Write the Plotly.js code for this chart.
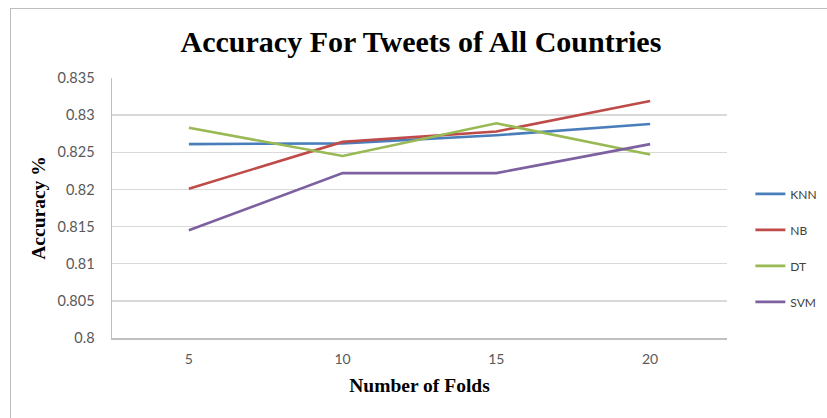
<!DOCTYPE html>
<html>
<head>
<meta charset="utf-8">
<script src="https://cdn.plot.ly/plotly-3.0.1.min.js"></script>
<style>
  html, body { margin: 0; padding: 0; background: #fff; }
  #chart { width: 827px; height: 418px; position: relative; }
  #frame { position: absolute; left: 10px; top: 8px; width: 830px; height: 420px;
           border-left: 1.5px solid #bdbdbd; border-top: 1.5px solid #bdbdbd; pointer-events: none; }
</style>
</head>
<body>
<div id="chart"></div>
<div id="frame"></div>
<script>
const folds = ['5', '10', '15', '20'];
const knn = [0.8261, 0.8262, 0.8273, 0.8288];
const nb  = [0.8201, 0.8264, 0.8278, 0.8319];
const dt  = [0.8283, 0.8245, 0.8289, 0.8247];
const svm = [0.8145, 0.8222, 0.8222, 0.8261];
const yTickVals = [0.8, 0.805, 0.81, 0.815, 0.82, 0.825, 0.83, 0.835];
const yTickText = ['0.8', '0.805', '0.81', '0.815', '0.82', '0.825', '0.83', '0.835'];

const names = ['KNN', 'NB', 'DT', 'SVM'];
const series = [knn, nb, dt, svm];
const colors = ['#4A7EBB', '#BE4B48', '#98B954', '#7D60A0'];

const traces = series.map((s, i) => ({
  x: folds, y: s, type: 'scatter', mode: 'lines', name: names[i],
  legendgroup: names[i],
  line: { color: colors[i], width: 2.6 }
}));

const layout = {
  width: 827, height: 418,
  margin: { l: 112, r: 100, t: 78, b: 80, autoexpand: false },
  paper_bgcolor: '#ffffff', plot_bgcolor: '#ffffff',
  title: {
    text: '<b>Accuracy For Tweets of All Countries</b>',
    font: { family: 'Liberation Serif, Times New Roman, serif', size: 30, color: '#000' },
    x: 0.509, xanchor: 'center', y: 0.9, yanchor: 'middle', yref: 'container'
  },
  xaxis: {
    type: 'category', range: [-0.5, 3.5],
    showgrid: false, showline: true, linecolor: '#BFBFBF', linewidth: 1.5,
    ticks: '', ticklabelstandoff: 8,
    tickfont: { family: 'Lato, Open Sans, sans-serif', size: 14, color: '#595959' },
    title: { text: '<b>Number of Folds</b>', standoff: 12,
             font: { family: 'Liberation Serif, Times New Roman, serif', size: 19.5, color: '#000' } },
    fixedrange: true
  },
  yaxis: {
    range: [0.8, 0.835], tickvals: yTickVals, ticktext: yTickText,
    showgrid: true, gridcolor: '#D9D9D9', gridwidth: 1.5,
    showline: true, linecolor: '#BFBFBF', linewidth: 1.5, zeroline: false,
    ticks: '', ticklabelstandoff: 13,
    tickfont: { family: 'Lato, Open Sans, sans-serif', size: 14.5, color: '#595959' },
    title: { text: '<b>Accuracy %</b>', standoff: 6,
             font: { family: 'Liberation Serif, Times New Roman, serif', size: 19.5, color: '#000' } },
    fixedrange: true
  },
  showlegend: true,
  legend: {
    x: 1.038, xanchor: 'left', y: 0.61, yanchor: 'top',
    traceorder: 'grouped', tracegroupgap: 17,
    font: { family: 'Lato, Open Sans, sans-serif', size: 12, color: '#404040' },
    bgcolor: 'rgba(0,0,0,0)', borderwidth: 0
  }
};

Plotly.newPlot('chart', traces, layout, { displayModeBar: false, staticPlot: true });
</script>
</body>
</html>
